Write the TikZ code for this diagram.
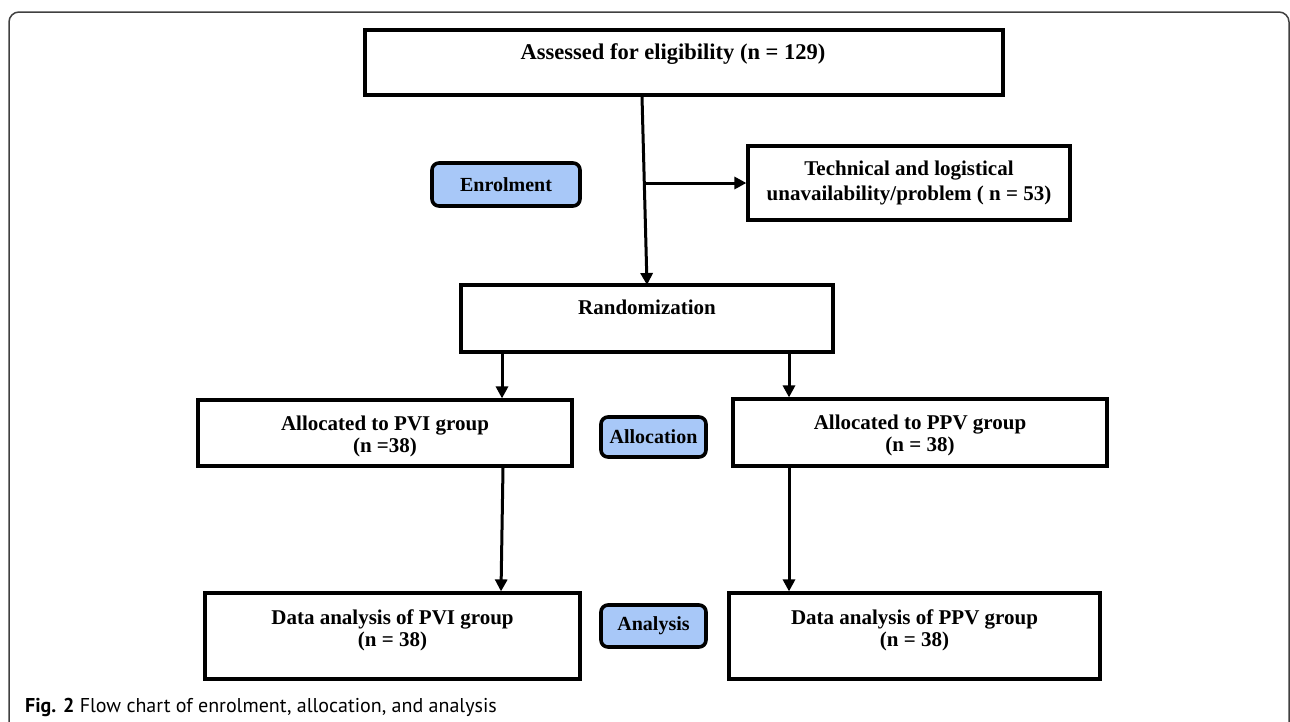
\documentclass[tikz,border=0pt]{standalone}
\usepackage{fontspec}
\setmainfont{Liberation Serif}
\newfontfamily\capfont{PT Sans}
\usepackage{xcolor}
\definecolor{tagblue}{HTML}{A8C8F8}
\definecolor{framegray}{HTML}{404040}
\usepackage{tikz}
\usetikzlibrary{arrows.meta, positioning}

\begin{document}
\begin{tikzpicture}[x=1pt, y=-1pt,
    box/.style={draw, line width=3.2pt, rectangle, align=center, inner sep=0pt, font=\fontsize{21}{22}\selectfont\bfseries},
    tag/.style={draw, line width=3.6pt, rounded corners=7pt, fill=tagblue, inner sep=0pt, font=\fontsize{20}{22}\selectfont\bfseries},
    arr/.style={-{Triangle[length=12pt, width=12pt]}, line width=3pt},
  ]
  \clip (0,0) rectangle (1290,721);
  % outer frame of the figure
  \draw[framegray, line width=1.5pt, rounded corners=10pt] (9,740) -- (9,12) -- (1289,12) -- (1289,740);

  \node[box, minimum width=638pt, minimum height=65pt, text depth=21.5pt, font=\fontsize{22.5}{24}\selectfont\bfseries] (assess) at (684,62.5) {Assessed for eligibility (n = 129)\hspace*{22pt}};
  \node[box, minimum width=322pt, minimum height=74pt] (tech) at (909,183) {Technical and logistical\\[3pt]unavailability/problem ( n = 53)};
  \node[box, minimum width=372pt, minimum height=67pt, text depth=23.5pt] (rand) at (647,318.5) {Randomization};
  \node[box, minimum width=374pt, minimum height=66pt, text height=42.5pt] (pviA) at (385,433) {Allocated to PVI group\\(n =38)};
  \node[box, minimum width=374pt, minimum height=67pt, text height=42.5pt] (ppvA) at (920,432.5) {Allocated to PPV group\\(n = 38)};
  \node[box, minimum width=375pt, minimum height=86pt, text depth=16.5pt] (pviD) at (392.5,636) {Data analysis of PVI group\\(n = 38)};
  \node[box, minimum width=371pt, minimum height=86pt, text depth=16.5pt] (ppvD) at (914.5,636) {Data analysis of PPV group\\(n = 38)};

  \node[tag, minimum width=148pt, minimum height=43pt] (enrol) at (506,184.5) {Enrolment};
  \node[tag, minimum width=105pt, minimum height=40pt] (alloc) at (653.5,437) {Allocation};
  \node[tag, minimum width=105pt, minimum height=42pt] (anal)  at (653.5,626) {Analysis};

  \coordinate (split) at (645.5,183);
  \draw[arr] ([xshift=-42pt]assess.south) -- ([yshift=-1.6pt]rand.north);
  \draw[arr] (split) -- (tech.west);
  \draw[arr] (rand.south -| 502,0) -- (pviA.north -| 502,0);
  \draw[arr] (rand.south -| 789,0) -- (ppvA.north -| 789,0);
  \draw[arr] (pviA.south -| 503,0) -- (pviD.north -| 501,0);
  \draw[arr] (ppvA.south -| 789,0) -- (ppvD.north -| 789,0);

  \node[anchor=base west, inner sep=0pt, font=\capfont\fontsize{20}{22}\selectfont] (caption) at (25,712) {\textbf{Fig. 2} Flow chart of enrolment, allocation, and analysis};
\end{tikzpicture}
\end{document}
